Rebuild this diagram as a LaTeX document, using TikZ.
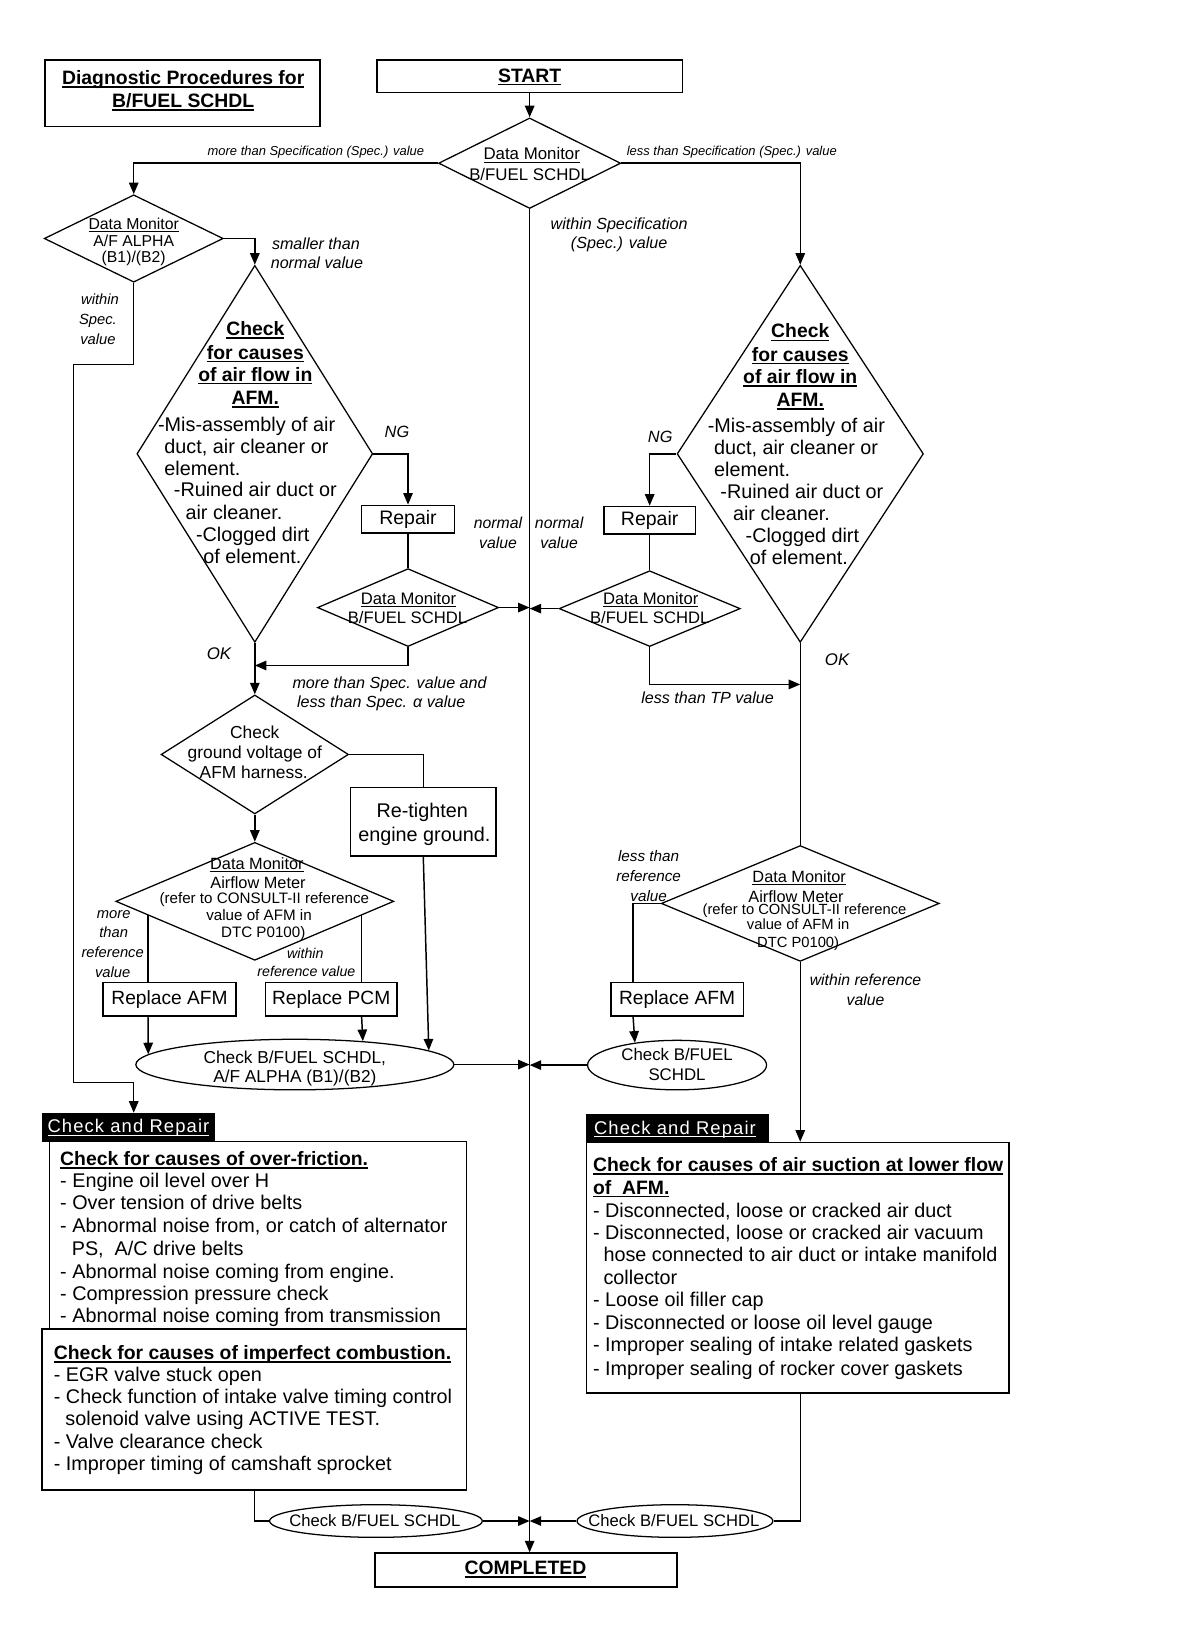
\documentclass[tikz,border=0pt]{standalone}
\usepackage{fontspec}
\setmainfont{Liberation Sans}
\usetikzlibrary{shapes.geometric,arrows.meta,calc}
\newcommand\fsz[2]{\fontsize{#1}{#2}\selectfont}
\newcommand\uln[1]{\setbox0\hbox{#1}\leavevmode\rlap{\rule[-2.6pt]{\wd0}{1.1pt}}\box0}
\newcommand\ulb[1]{\setbox0\hbox{#1}\leavevmode\rlap{\rule[-3.2pt]{\wd0}{1.7pt}}\box0}
\begin{document}
\begin{tikzpicture}[x=1pt,y=-1pt,
  shp/.style={draw, line width=1.2pt, inner sep=0pt},
  rbox/.style={shp, rectangle, line width=1.5pt},
  dia/.style={shp, diamond},
  ell/.style={shp, ellipse},
  arr/.style={line width=1.4pt, -{Triangle[length=11pt,width=9pt]}},
  ln/.style={line width=1.4pt},
  txt/.style={inner sep=0pt, anchor=mid, yshift=-3.3pt},
  txtl/.style={inner sep=0pt, anchor=mid west, yshift=-3.3pt},
  bodyf/.style={font=\fsz{18.8}{21}},
  boldf/.style={font=\bfseries\fsz{18.4}{21}},
  labf/.style={font=\itshape\fsz{15.3}{18}},
]
\useasboundingbox (0,0) rectangle (1139.6,1567);

% ---------- title and start ----------
\node[rbox, minimum width=261pt, minimum height=63pt] (title) at (173.5,88.5) {};
\node[txt, boldf] (tt1) at (174,74) {\ulb{Diagnostic Procedures for}};
\node[txt, boldf] (tt2) at (174,96) {\ulb{B/FUEL SCHDL}};

\node[rbox, minimum width=290pt, minimum height=31pt] (start) at (503,72.5) {};
\node[txt, boldf] (startt) at (503,72) {\ulb{START}};

% ---------- main diamond ----------
\node[dia, minimum width=173pt, minimum height=86pt] (dm1) at (503,155) {};
\node[txt, font=\fsz{16}{19}] (dm1a) at (505,146) {\uln{Data Monitor}};
\node[txt, font=\fsz{16}{19}] (dm1b) at (503,165) {B/FUEL SCHDL};

\node[txt, font=\itshape\fsz{12.3}{14}] (l1) at (300,142) {more than Specification (Spec.) value};
\node[txt, font=\itshape\fsz{12.3}{14}] (l2) at (695,142) {less than Specification (Spec.) value};
\node[txt, labf] (l3a) at (588,212) {within Specification};
\node[txt, labf] (l3b) at (588,230) {(Spec.) value};

% ---------- A/F alpha diamond ----------
\node[dia, minimum width=170pt, minimum height=83pt] (dm2) at (127,226.5) {};
\node[txt, font=\fsz{15}{17}] (dm2a) at (127,212) {\uln{Data Monitor}};
\node[txt, font=\fsz{15}{17}] (dm2b) at (127,228) {A/F ALPHA};
\node[txt, font=\fsz{15}{17}] (dm2c) at (127,243) {(B1)/(B2)};
\node[txt, labf] (l4a) at (300,231) {smaller than};
\node[txt, labf] (l4b) at (301,249) {normal value};
\node[txt, font=\itshape\fsz{14}{17}] (l5a) at (95,283) {within};
\node[txt, font=\itshape\fsz{14}{17}] (l5b) at (93,302) {Spec.};
\node[txt, font=\itshape\fsz{14}{17}] (l5c) at (93,321) {value};

% ---------- big check diamonds ----------
\node[dia, minimum width=224pt, minimum height=358pt] (ckL) at (242,431) {};
\node[dia, minimum width=234pt, minimum height=358pt] (ckR) at (760,431) {};
\foreach[count=\i] \yy/\tt in {313/Check, 335/for causes, 356/of air flow in, 378/AFM.}
  \node[txt, boldf] (ckLh\i) at (242.5,\yy) {\ulb{\tt}};
\foreach[count=\i] \yy/\tt in {315/Check, 337/for causes, 358/of air flow in, 380/AFM.}
  \node[txt, boldf] (ckRh\i) at (760,\yy) {\ulb{\tt}};
\foreach[count=\i] \xx/\yy/\tt in {150/404/{-Mis-assembly of air}, 156/425/{duct, air cleaner or},
   156/446/{element.}, 165/466/{-Ruined air duct or}, 176/487/{air cleaner.},
   186/508/{-Clogged dirt}, 193/529/{of element.}}
  \node[txtl, bodyf] (ckLt\i) at (\xx,\yy) {\tt};
\foreach[count=\i] \xx/\yy/\tt in {672/405/{-Mis-assembly of air}, 678/426/{duct, air cleaner or},
   678/447/{element.}, 684/467/{-Ruined air duct or}, 696/488/{air cleaner.},
   708/509/{-Clogged dirt}, 712/530/{of element.}}
  \node[txtl, bodyf] (ckRt\i) at (\xx,\yy) {\tt};
\node[txt, font=\itshape\fsz{15.5}{18}] (ng1) at (377,410) {NG};
\node[txt, font=\itshape\fsz{15.5}{18}] (ng2) at (627,414) {NG};
\node[txt, font=\itshape\fsz{16}{18}] (ok1) at (208,620) {OK};
\node[txt, font=\itshape\fsz{16}{18}] (ok2) at (795,626) {OK};

% ---------- repair and B/FUEL diamonds ----------
\node[rbox, minimum width=88pt, minimum height=26pt, font=\fsz{18.5}{21}] (repL) at (387.5,493) {Repair};
\node[rbox, minimum width=87pt, minimum height=26pt, font=\fsz{18.5}{21}] (repR) at (617,494) {Repair};
\node[dia, minimum width=172pt, minimum height=74pt] (dm3) at (387.5,577) {};
\node[txt, font=\fsz{15.8}{18}] (dm3a) at (388,568) {\uln{Data Monitor}};
\node[txt, font=\fsz{15.8}{18}] (dm3b) at (387,586) {B/FUEL SCHDL};
\node[dia, minimum width=172pt, minimum height=72pt] (dm3r) at (617,578) {};
\node[txt, font=\fsz{15.8}{18}] (dm3ra) at (618,568) {\uln{Data Monitor}};
\node[txt, font=\fsz{15.8}{18}] (dm3rb) at (617,586) {B/FUEL SCHDL};
\node[txt, font=\itshape\fsz{15}{18}] (nv1a) at (473,496) {normal};
\node[txt, font=\itshape\fsz{15}{18}] (nv1b) at (473,515) {value};
\node[txt, font=\itshape\fsz{15}{18}] (nv2a) at (531,496) {normal};
\node[txt, font=\itshape\fsz{15}{18}] (nv2b) at (531,515) {value};
\node[txt, labf] (l6a) at (370,648) {more than Spec. value and};
\node[txt, labf] (l6b) at (362,666) {less than Spec. α value};
\node[txt, labf] (l7) at (672,662) {less than TP value};

% ---------- ground voltage ----------
\node[dia, minimum width=178pt, minimum height=113pt] (cg) at (242,716.5) {};
\node[txt, font=\fsz{16.5}{19}] (cga) at (242,695) {Check};
\node[txt, font=\fsz{16.5}{19}] (cgb) at (242,714) {ground voltage of};
\node[txt, font=\fsz{16.5}{19}] (cgc) at (241,733) {AFM harness.};
\node[rbox, minimum width=138pt, minimum height=65pt] (rt) at (402,780.5) {};
\node[txt, bodyf] (rta) at (401,770) {Re-tighten};
\node[txt, bodyf] (rtb) at (403,793) {engine ground.};

% ---------- airflow meter diamonds ----------
\node[dia, minimum width=264pt, minimum height=112pt] (dm4) at (242,856) {};
\node[txt, font=\fsz{15.5}{17}] (dm4a) at (244,820) {\uln{Data Monitor}};
\node[txt, font=\fsz{15.5}{17}] (dm4b) at (245,838) {Airflow Meter};
\node[txt, font=\fsz{14.4}{17}] (dm4c) at (251,852) {(refer to CONSULT-II reference};
\node[txt, font=\fsz{14.4}{17}] (dm4d) at (246,868) {value of AFM in};
\node[txt, font=\fsz{14.4}{17}] (dm4e) at (250,884) {DTC P0100)};
\node[dia, minimum width=264pt, minimum height=110pt] (dm4r) at (760,858) {};
\node[txt, font=\fsz{15.5}{17}] (dm4ra) at (759,832) {\uln{Data Monitor}};
\node[txt, font=\fsz{15.5}{17}] (dm4rb) at (756,851) {Airflow Meter};
\node[txt, font=\fsz{14}{17}] (dm4rc) at (764,863) {(refer to CONSULT-II reference};
\node[txt, font=\fsz{14}{17}] (dm4rd) at (758,877) {value of AFM in};
\node[txt, font=\fsz{14}{17}] (dm4re) at (758,894) {DTC P0100)};
\foreach[count=\i] \xx/\yy/\tt in {108/866/more, 108/884/than, 107/903/reference, 107/922/value}
  \node[txt, font=\itshape\fsz{14}{17}] (l8\i) at (\xx,\yy) {\tt};
\node[txt, font=\itshape\fsz{13.5}{16}] (l9a) at (290,904) {within};
\node[txt, font=\itshape\fsz{13.5}{16}] (l9b) at (291,921) {reference value};
\foreach[count=\i] \yy/\tt in {812/less than, 831/reference, 850/value}
  \node[txt, font=\itshape\fsz{14.5}{17}] (l10\i) at (616,\yy) {\tt};
\node[txt, font=\itshape\fsz{15}{17}] (l11a) at (822,930) {within reference};
\node[txt, font=\itshape\fsz{15}{17}] (l11b) at (822,949) {value};

% ---------- replace boxes and ellipses ----------
\node[rbox, minimum width=126pt, minimum height=32pt, font=\fsz{18.2}{21}] (rAL) at (161,949) {Replace AFM};
\node[rbox, minimum width=125pt, minimum height=32pt, font=\fsz{18.2}{21}] (rPCM) at (314.5,949) {Replace PCM};
\node[rbox, minimum width=126pt, minimum height=32pt, font=\fsz{18.2}{21}] (rAR) at (643,949) {Replace AFM};
\node[ell, minimum width=302pt, minimum height=48pt] (ellL) at (280,1011) {};
\node[txt, font=\fsz{16.4}{19}] (ellLa) at (280,1004) {Check B/FUEL SCHDL,};
\node[txt, font=\fsz{16.4}{19}] (ellLb) at (280,1022) {A/F ALPHA (B1)/(B2)};
\node[ell, minimum width=170pt, minimum height=47pt] (ellR) at (643,1011.5) {};
\node[txt, font=\fsz{16}{19}] (ellRa) at (643,1001) {Check B/FUEL};
\node[txt, font=\fsz{16}{19}] (ellRb) at (643,1020) {SCHDL};

% ---------- check and repair boxes ----------
\node[fill=black, draw=black, minimum width=163pt, minimum height=27pt, inner sep=0pt] (crLt) at (121.5,1070.5) {};
\node[txt, text=white, font=\fsz{17.5}{20}\addfontfeature{LetterSpace=6}] (crLtt) at (122,1070) {\uln{Check and Repair}};
\node[rbox, minimum width=396pt, minimum height=178pt] (crL1) at (245,1173) {};
\node[rbox, minimum width=403pt, minimum height=153pt] (crL2) at (241.5,1338.5) {};
\node[txtl, boldf] (crL1h) at (57,1101) {\ulb{Check for causes of over-friction.}};
\foreach[count=\i] \xx/\yy/\tt in {57/1122/{- Engine oil level over H}, 57/1143/{- Over tension of drive belts},
   57/1165/{- Abnormal noise from, or catch of alternator}, 68/1186/{PS,\ \ A/C drive belts},
   57/1208/{- Abnormal noise coming from engine.}, 57/1229/{- Compression pressure check},
   57/1250/{- Abnormal noise coming from transmission}}
  \node[txtl, bodyf] (crL1t\i) at (\xx,\yy) {\tt};
\node[txtl, boldf] (crL2h) at (51,1285) {\ulb{Check for causes of imperfect combustion.}};
\foreach[count=\i] \xx/\yy/\tt in {51/1306/{- EGR valve stuck open},
   51/1327/{- Check function of intake valve timing control},
   62/1348/{solenoid valve using ACTIVE TEST.}, 51/1370/{- Valve clearance check},
   51/1391/{- Improper timing of camshaft sprocket}}
  \node[txtl, bodyf] (crL2t\i) at (\xx,\yy) {\tt};

\node[fill=black, draw=black, minimum width=173pt, minimum height=27pt, inner sep=0pt] (crRt) at (643.5,1071.5) {};
\node[txt, text=white, font=\fsz{17.5}{20}\addfontfeature{LetterSpace=6}] (crRtt) at (641,1071) {\uln{Check and Repair}};
\node[rbox, minimum width=401pt, minimum height=238pt] (crR) at (757.5,1204) {};
\node[txtl, boldf] (crRh1) at (563,1107) {\ulb{Check for causes of air suction at lower flow}};
\node[txtl, boldf] (crRh2) at (563,1128) {\ulb{of\ \ AFM.}};
\foreach[count=\i] \xx/\yy/\tt in {563/1150/{- Disconnected, loose or cracked air duct},
   563/1171/{- Disconnected, loose or cracked air vacuum},
   573/1192/{hose connected to air duct or intake manifold}, 573/1214/{collector},
   563/1235/{- Loose oil filler cap}, 563/1257/{- Disconnected or loose oil level gauge},
   563/1278/{- Improper sealing of intake related gaskets},
   563/1300/{- Improper sealing of rocker cover gaskets}}
  \node[txtl, bodyf] (crRt\i) at (\xx,\yy) {\tt};

% ---------- bottom ----------
\node[ell, minimum width=202pt, minimum height=31pt] (ellBL) at (357,1444.5) {};
\node[txt, font=\fsz{15.8}{18}] (ellBLt) at (356,1444) {Check B/FUEL SCHDL};
\node[ell, minimum width=186pt, minimum height=31pt] (ellBR) at (641,1444.5) {};
\node[txt, font=\fsz{15.8}{18}] (ellBRt) at (640,1444) {Check B/FUEL SCHDL};
\node[rbox, minimum width=287pt, minimum height=32pt] (comp) at (499.5,1491) {};
\node[txt, boldf] (compt) at (499,1489) {\ulb{COMPLETED}};

% ---------- coordinates ----------
\coordinate (w2) at (70,346);
\coordinate (w4) at (127,1028);
\coordinate (jL) at (242,632);
\coordinate (jR) at (760,650);
\coordinate (p1) at ($(dm4.west)!0.235!(dm4.south)$);
\coordinate (p2) at ($(dm4.east)!0.235!(dm4.south)$);
\coordinate (p3) at ($(rAR.north west)+(22,0)$);
\coordinate (p4) at ($(rAR.south west)+(22,0)$);

% ---------- connectors ----------
\draw[arr] (start.south) -- (start.south |- dm1.north);
\draw[arr] (dm1.west) -| (dm2.north);
\draw[arr] (dm1.east) -| (ckR.north);
\draw[arr] (dm1.south) -- (dm1.south |- comp.north);
\draw[arr] (dm2.east) -| (ckL.north);
\draw[arr] (dm2.south) |- (w2) |- (w4) -- (w4 |- crLt.north);
\draw[arr] (ckL.east) -| (repL.north);
\draw[ln] (repL.south) -- (dm3.north);
\draw[arr] (dm3.east) -- (dm3.east -| dm1.south);
\draw[arr] (ckR.west) -| (repR.north);
\draw[ln] (repR.south) -- (dm3r.north);
\draw[arr] (dm3r.west) -- (dm3r.west -| dm1.south);
\draw[arr] (dm3.south) |- (jL);
\draw[arr] (ckL.south) -- (cg.north);
\draw[arr] (dm3r.south) |- (jR);
\draw[ln] (ckR.south) -- (dm4r.north);
\draw[ln] (cg.east) -| (rt.north);
\draw[arr] (rt.south) -- (ellL.6.6);
\draw[arr] (cg.south) -- (dm4.north);
\draw[ln] (p1) -- (p1 |- rAL.north);
\draw[ln] (p2) -- (p2 |- rPCM.north);
\draw[arr] (p1 |- rAL.south) -- (ellL.176.1);
\draw[arr] (p2 |- rPCM.south) -- (ellL.19.1);
\draw[arr] (ellL.east) -- (ellL.east -| dm1.south);
\draw[arr] (ellR.west) -- (ellR.west -| dm1.south);
\draw[ln] (dm4r.west) -| (p3);
\draw[arr] (p4) -- (ellR.152.9);
\draw[arr] (dm4r.south) -- (dm4r.south |- crR.north);
\draw[ln] (crL2.south) |- (ellBL.west);
\draw[arr] (ellBL.east) -- (ellBL.east -| dm1.south);
\draw[ln] (dm4r.south |- crR.south) |- (ellBR.east);
\draw[arr] (ellBR.west) -- (ellBR.west -| dm1.south);
\end{tikzpicture}
\end{document}
